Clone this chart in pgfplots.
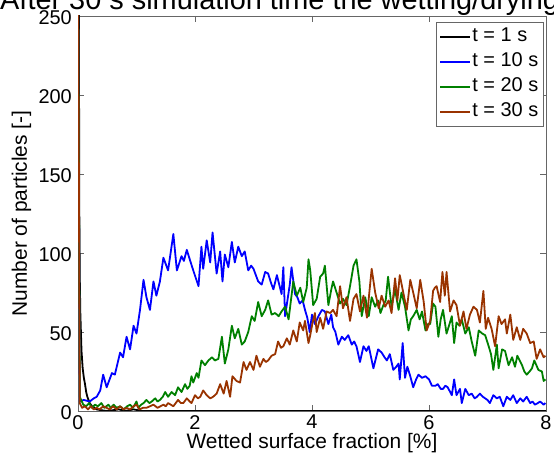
\documentclass[border=0pt]{standalone}
\usepackage{pgfplots}
\pgfplotsset{compat=1.18}
\usepackage{fontspec}
\setmainfont{Liberation Sans}
\definecolor{mgreen}{RGB}{0,128,0}
\definecolor{mbrown}{RGB}{153,51,0}
\definecolor{mblue}{RGB}{0,0,255}
\begin{document}
\begin{tikzpicture}
\begin{axis}[
  at={(78bp,50bp)}, anchor=south west,
  width=468bp, height=395bp, scale only axis,
  xmin=0,xmax=8,ymin=0,ymax=250,
  xtick={0,2,4,6,8}, ytick={0,50,100,150,200,250},
  tick align=inside, major tick length=6bp,
  axis line style={draw=black!60, line width=0.8bp},
  every tick/.style={draw=black!60, line width=0.6bp},
  /pgf/number format/assume math mode=true,
  ticklabel style={font=\fontsize{20}{24}\selectfont},
  xticklabel style={inner sep=0pt, yshift=-4bp},
  yticklabel style={inner sep=0pt, xshift=-6bp, yshift=-2bp},
  xlabel={Wetted surface fraction [\%]},
  ylabel={Number of particles [-]},
  label style={font=\fontsize{21}{25}\selectfont},
  xlabel style={at={(axis description cs:0.5,-0.0937)}, anchor=base},
  ylabel style={at={(axis description cs:-0.109,0.5)}, anchor=base},
  legend style={at={(axis description cs:0.9936,0.985)}, anchor=north east,
    draw=black!60, font=\fontsize{20}{24}\selectfont,
    inner xsep=3bp, inner ysep=3bp, row sep=2bp,
    nodes={inner sep=1.5bp, text height=15bp, text depth=5bp}, cells={anchor=west}},
  legend image code/.code={\draw[#1] (0bp,0bp) -- (30bp,0bp);},
  every axis plot/.append style={line width=1.8bp, line join=round},
]
\addplot[color=black] coordinates {
(0,1000)(0.02,140)(0.03,85)(0.04,62)(0.06,38)(0.08,27)(0.10,21)(0.12,17)(0.14,12)(0.16,9)(0.18,7)(0.20,5)(0.24,3)(0.28,2)(0.32,1)(0.40,0.5)(0.5,0)(0.7,1)(0.8,0)(0.95,1)(1.1,0)(8,0)
};
\addlegendentry{t = 1 s}
\addplot[color=mblue] coordinates {
(0,300)(0.03,6)(0.1,7)(0.2,6)(0.27,8)(0.32,9)(0.38,13)(0.43,23)(0.49,15)(0.54,20)(0.58,24)(0.63,23)(0.72,37)(0.77,34)(0.83,47)(0.89,39)(0.95,54)(1.00,49)(1.06,64)(1.12,83)(1.17,72)(1.23,64)(1.29,82)(1.34,73)(1.40,82)(1.46,97)(1.54,89)(1.63,112)(1.69,89)(1.77,98)(1.81,95)(1.86,102)(1.91,96)(1.97,89)(2.06,79)(2.11,104)(2.14,90)(2.20,108)(2.26,94)(2.30,113)(2.37,87)(2.43,101)(2.47,82)(2.51,99)(2.57,91)(2.63,107)(2.68,94)(2.74,104)(2.80,98)(2.85,101)(2.91,89)(2.96,92)(3.00,90)(3.04,86)(3.08,82)(3.14,80)(3.20,88)(3.25,87)(3.30,81)(3.34,77)(3.40,86)(3.44,80)(3.48,74)(3.51,91)(3.54,60)(3.58,70)(3.62,80)(3.65,91)(3.71,74)(3.75,72)(3.79,68)(3.84,70)(3.88,64)(3.92,59)(3.96,50)(4.00,61)(4.05,55)(4.11,60)(4.17,64)(4.22,63)(4.28,55)(4.33,61)(4.36,53)(4.40,50)(4.45,42)(4.51,47)(4.56,45)(4.62,48)(4.68,42)(4.72,44)(4.76,41)(4.82,31)(4.88,41)(4.93,38)(4.97,41)(5.01,34)(5.05,27)(5.09,33)(5.13,39)(5.19,37)(5.24,34)(5.28,32)(5.33,36)(5.39,26)(5.44,28)(5.48,30)(5.50,20)(5.55,43)(5.59,21)(5.63,28)(5.68,22)(5.73,15)(5.78,20)(5.82,23)(5.88,21)(5.94,22)(6.00,20)(6.05,16)(6.11,16)(6.15,17)(6.20,14)(6.24,14)(6.28,16)(6.32,15)(6.39,10)(6.43,20)(6.47,10)(6.53,14)(6.56,5)(6.62,14)(6.68,10)(6.73,11)(6.78,8)(6.82,9)(6.87,11)(6.92,9)(6.96,8)(7.00,7)(7.04,5)(7.10,10)(7.16,8)(7.21,9)(7.27,3)(7.33,9)(7.39,7)(7.44,10)(7.50,5)(7.56,8)(7.61,6)(7.67,9)(7.73,5)(7.77,6)(7.81,4)(7.86,5)(7.90,6)(7.96,4)(7.99,5)
};
\addlegendentry{t = 10 s}
\addplot[color=mgreen] coordinates {
(0,300)(0.03,9)(0.09,4)(0.14,3)(0.19,5)(0.24,2)(0.29,4)(0.34,3)(0.40,5)(0.45,2)(0.52,4)(0.56,2)(0.61,4)(0.66,2)(0.72,3)(0.78,1)(0.84,3)(0.89,4)(0.94,2)(1.00,6)(1.03,2)(1.08,4)(1.12,5)(1.17,7)(1.22,5)(1.26,6)(1.32,8)(1.36,6)(1.40,7)(1.45,9)(1.49,12)(1.54,9)(1.60,12)(1.66,10)(1.71,15)(1.77,12)(1.83,17)(1.87,14)(1.91,16)(1.94,22)(1.97,18)(2.03,24)(2.06,21)(2.11,32)(2.17,29)(2.23,32)(2.29,34)(2.34,32)(2.40,33)(2.46,47)(2.51,30)(2.57,39)(2.63,54)(2.68,46)(2.74,52)(2.80,42)(2.85,44)(2.91,50)(2.97,60)(3.02,57)(3.08,69)(3.14,60)(3.20,64)(3.25,70)(3.31,61)(3.37,62)(3.43,60)(3.48,63)(3.54,66)(3.60,58)(3.68,82)(3.74,73)(3.80,78)(3.85,69)(3.91,78)(3.94,96)(3.97,89)(4.02,67)(4.08,71)(4.14,85)(4.19,87)(4.22,92)(4.28,67)(4.33,77)(4.36,82)(4.42,75)(4.48,68)(4.53,71)(4.59,67)(4.65,79)(4.71,92)(4.76,96)(4.81,82)(4.85,60)(4.91,72)(4.97,60)(5.02,72)(5.08,66)(5.13,70)(5.17,62)(5.22,67)(5.26,70)(5.30,85)(5.36,66)(5.42,77)(5.48,64)(5.53,75)(5.59,66)(5.65,51)(5.69,58)(5.73,60)(5.79,64)(5.84,58)(5.88,63)(5.94,51)(5.98,55)(6.02,55)(6.07,68)(6.11,66)(6.16,47)(6.20,58)(6.24,64)(6.30,49)(6.35,55)(6.39,60)(6.43,43)(6.47,56)(6.52,54)(6.56,58)(6.62,49)(6.68,53)(6.73,44)(6.79,35)(6.85,51)(6.91,49)(6.96,48)(7.02,41)(7.06,36)(7.10,26)(7.16,42)(7.19,27)(7.25,39)(7.30,38)(7.36,29)(7.42,34)(7.47,28)(7.51,35)(7.55,32)(7.59,29)(7.63,25)(7.67,23)(7.72,25)(7.76,27)(7.80,32)(7.87,26)(7.93,25)(7.96,19)(7.99,20)
};
\addlegendentry{t = 20 s}
\addplot[color=mbrown] coordinates {
(0,300)(0.03,5)(0.07,2)(0.12,3)(0.17,1)(0.22,3)(0.27,1)(0.32,2)(0.37,1)(0.43,3)(0.49,2)(0.54,1)(0.60,3)(0.66,1)(0.72,3)(0.78,1)(0.83,2)(0.89,1)(0.95,3)(1.00,4)(1.05,1)(1.11,2)(1.17,2)(1.23,3)(1.29,4)(1.36,2)(1.41,3)(1.46,4)(1.50,3)(1.54,5)(1.63,3)(1.71,7)(1.76,5)(1.80,5)(1.86,8)(1.91,6)(1.94,5)(2.00,10)(2.05,8)(2.09,9)(2.14,13)(2.20,10)(2.26,8)(2.31,9)(2.37,11)(2.43,17)(2.49,11)(2.54,19)(2.60,9)(2.64,22)(2.71,19)(2.77,18)(2.83,31)(2.88,26)(2.94,31)(3.00,26)(3.05,35)(3.11,28)(3.17,33)(3.21,31)(3.25,32)(3.31,35)(3.37,36)(3.42,44)(3.47,40)(3.51,41)(3.57,46)(3.62,42)(3.68,51)(3.74,44)(3.79,56)(3.85,51)(3.88,57)(3.94,43)(3.97,48)(4.01,56)(4.05,62)(4.08,50)(4.14,59)(4.19,52)(4.25,63)(4.31,62)(4.36,64)(4.42,60)(4.48,79)(4.53,65)(4.59,72)(4.65,57)(4.71,71)(4.76,74)(4.82,63)(4.88,73)(4.94,59)(4.98,75)(5.02,90)(5.08,75)(5.14,65)(5.19,73)(5.25,66)(5.31,70)(5.36,62)(5.42,84)(5.46,70)(5.50,86)(5.56,75)(5.62,64)(5.68,83)(5.73,75)(5.79,65)(5.85,83)(5.91,69)(5.96,51)(6.02,57)(6.07,76)(6.10,78)(6.13,79)(6.19,69)(6.23,88)(6.27,73)(6.30,88)(6.36,63)(6.42,70)(6.47,67)(6.53,54)(6.59,63)(6.64,52)(6.70,61)(6.76,66)(6.82,64)(6.87,56)(6.93,76)(6.97,52)(7.01,59)(7.07,52)(7.13,41)(7.19,60)(7.24,55)(7.30,58)(7.33,49)(7.39,61)(7.44,45)(7.50,53)(7.56,45)(7.61,52)(7.67,49)(7.73,43)(7.79,44)(7.84,33)(7.90,39)(7.96,34)(7.99,35)
};
\addlegendentry{t = 30 s}
\end{axis}
\node[anchor=base west, inner sep=0pt, font=\fontsize{29}{34}\selectfont] at (0bp,451bp) {After 30 s simulation time the wetting/drying};
\pgfresetboundingbox
\path[use as bounding box] (0,0) rectangle (554bp,461bp);
\end{tikzpicture}
\end{document}
